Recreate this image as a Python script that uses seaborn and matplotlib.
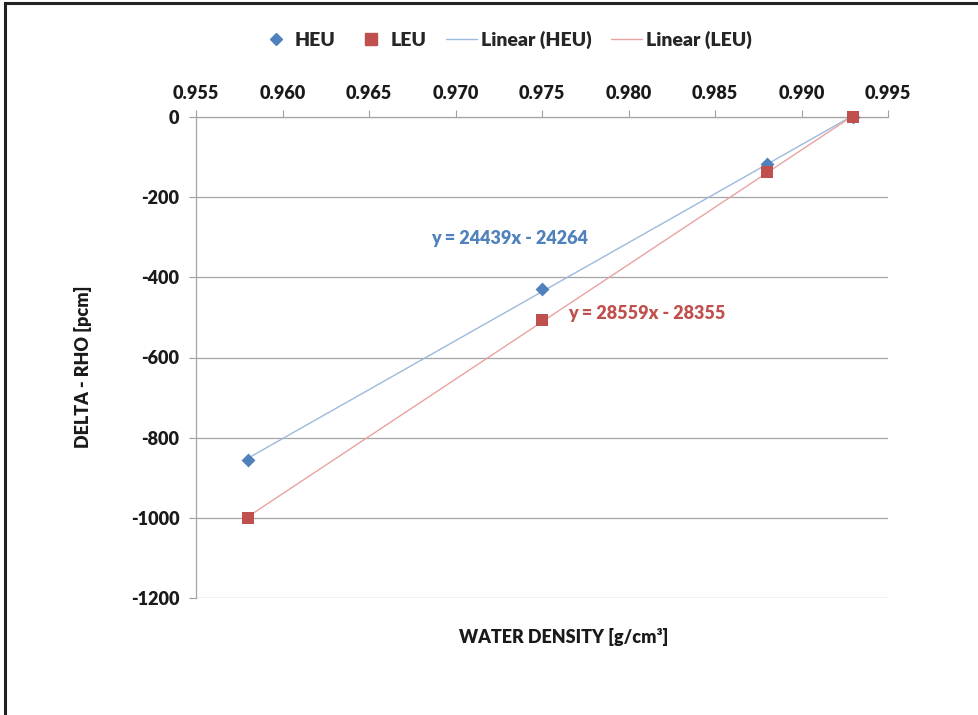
import matplotlib
matplotlib.use("Agg")
import matplotlib.pyplot as plt
import seaborn as sns
import numpy as np
import pandas as pd
from matplotlib.lines import Line2D
from matplotlib.patches import Rectangle

# ---- data ----
density = [0.958, 0.975, 0.988, 0.993]
heu_rho = [-855, -429, -117, 0]
leu_rho = [-1000, -506, -138, 0]
x_ticks = [0.955, 0.960, 0.965, 0.970, 0.975, 0.980, 0.985, 0.990, 0.995]
y_ticks = [0, -200, -400, -600, -800, -1000, -1200]
heu_eq = "y = 24439x - 24264"
leu_eq = "y = 28559x - 28355"

sns.set_theme(style="white")
plt.rcParams['font.family'] = ['Lato', 'DejaVu Sans']
W = "heavy"

HEU_C = "#4F81BD"
LEU_C = "#C0504D"
HEU_L = "#9DB9DD"
LEU_L = "#E8A3A1"

fig = plt.figure(figsize=(9.79, 7.15), dpi=100)
ax = fig.add_axes([196 / 979, 1 - 598 / 715, (888 - 196) / 979, (598 - 117) / 715])

sns.regplot(x=density, y=heu_rho, ax=ax, ci=None, scatter=False,
            line_kws=dict(color=HEU_L, lw=1.0, zorder=2))
sns.regplot(x=density, y=leu_rho, ax=ax, ci=None, scatter=False,
            line_kws=dict(color=LEU_L, lw=1.0, zorder=2))
sns.scatterplot(x=density, y=heu_rho, marker="D", color=HEU_C, s=50,
                linewidth=0, ax=ax, zorder=3, clip_on=False)
sns.scatterplot(x=density, y=leu_rho, marker="s", color=LEU_C, s=72,
                linewidth=0, ax=ax, zorder=3, clip_on=False)

ax.set_xlim(0.955, 0.995)
ax.set_ylim(-1200, 0)
ax.set_xticks(x_ticks)
ax.set_xticklabels([f"{t:.3f}" for t in x_ticks])
ax.set_yticks(y_ticks)
ax.set_yticklabels([str(t) for t in y_ticks])
ax.xaxis.tick_top()
ax.tick_params(axis="x", which="both", top=True, bottom=False, length=5,
               width=0.8, color="#A0A0A0", pad=6, labelsize=13)
ax.tick_params(axis="y", left=True, length=5, width=0.8, color="#A0A0A0",
               pad=7, labelsize=13)
for lab in ax.get_xticklabels() + ax.get_yticklabels():
    lab.set_fontweight(W)
    lab.set_color("#1a1a1a")
ax.set_xlabel("")
ax.set_ylabel("")
ax.yaxis.grid(True, color="#A6A6A6", lw=0.9)
ax.xaxis.grid(False)
for side in ["right", "bottom"]:
    ax.spines[side].set_visible(False)
for side in ["left", "top"]:
    ax.spines[side].set_color("#A6A6A6")
    ax.spines[side].set_linewidth(0.9)
ax.set_axisbelow(True)

ax.text(0.97315, -302, heu_eq, color=HEU_C, fontsize=13, fontweight=W,
        ha="center", va="center")
ax.text(0.98107, -489, leu_eq, color=LEU_C, fontsize=13, fontweight=W,
        ha="center", va="center")

fig.text(564 / 979, 1 - 637 / 715, "WATER DENSITY [g/cm³]", ha="center",
         va="center", fontsize=13, fontweight=W, color="#1a1a1a")
fig.text(83 / 979, 1 - 367 / 715, "DELTA - RHO [pcm]", ha="center",
         va="center", rotation=90, fontsize=13, fontweight=W, color="#1a1a1a")

handles = [
    Line2D([], [], ls="none", marker="D", color=HEU_C, markersize=6),
    Line2D([], [], ls="none", marker="s", color=LEU_C, markersize=8),
    Line2D([], [], color=HEU_L, lw=1.0),
    Line2D([], [], color=LEU_L, lw=1.0),
]
fig.legend(handles, ["HEU", "LEU", "Linear (HEU)", "Linear (LEU)"],
           loc="center", bbox_to_anchor=(506 / 979, 1 - 40 / 715), ncol=4,
           frameon=False, handlelength=1.6, handletextpad=0.2,
           columnspacing=1.0,
           prop=dict(family="Lato", weight=W, size=14))

fig.patches.append(Rectangle((5 / 979, -0.05), 1.05, 1 - 3 / 715 + 0.05,
                             transform=fig.transFigure, fill=False,
                             edgecolor="#222222", lw=2.2, zorder=0))

fig.savefig("out.png", dpi=100)
